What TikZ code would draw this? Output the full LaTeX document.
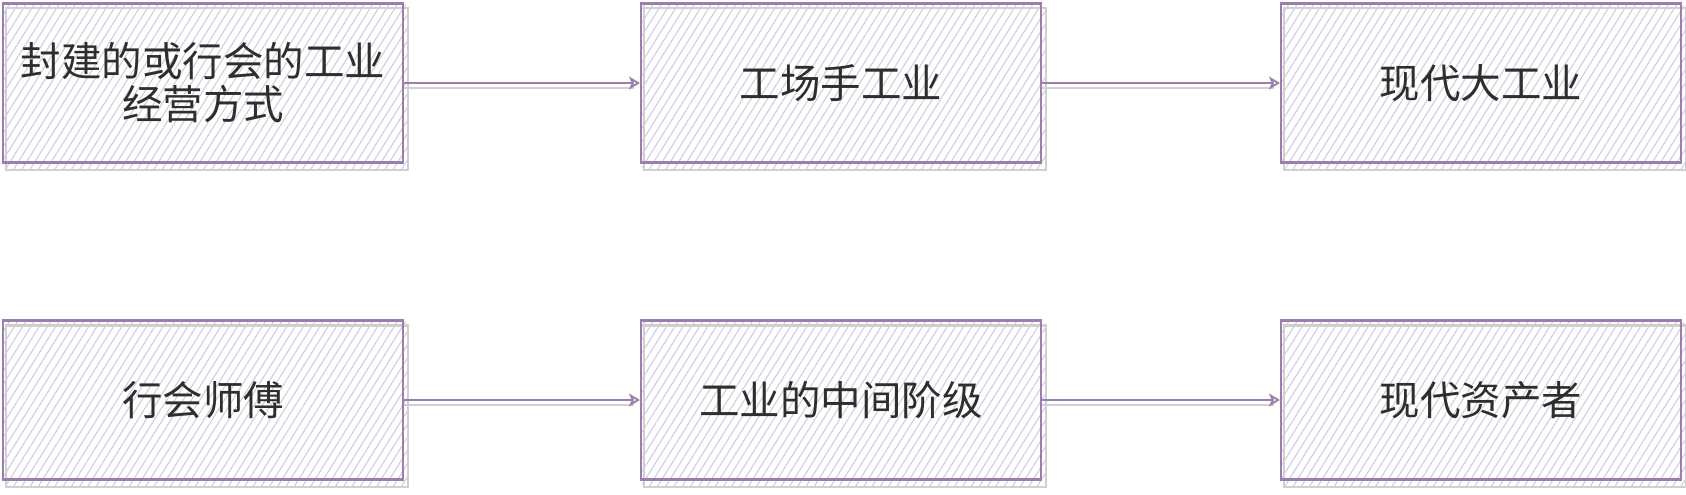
\documentclass[tikz,border=0pt]{standalone}
\usepackage{fontspec}
\newfontfamily\cjk{Noto Sans CJK SC}
\usetikzlibrary{patterns.meta,arrows.meta,backgrounds}
\definecolor{boxpurple}{HTML}{9A7EAE}
\definecolor{hatchc}{HTML}{D4CCDC}
\definecolor{shadowc}{HTML}{D0D0D0}
\definecolor{txt}{HTML}{2E2E2E}
\tikzset{
  stagebox/.style={draw=boxpurple, line width=2.2pt, minimum width=400pt, minimum height=159pt,
    inner sep=2pt, align=center, text=txt, font=\cjk\fontsize{40.5}{43}\selectfont},
  hatchfill/.style={pattern={Lines[angle=58,distance=7pt,line width=1.1pt]}, pattern color=hatchc},
  shadowline/.style={draw=shadowc, line width=2.2pt},
  flow/.style={draw=boxpurple, line width=2.2pt, -{Stealth[open,length=11pt,width=13pt,inset=3pt,line width=1.8pt]}},
  flowshadow/.style={draw=shadowc, line width=2.2pt}
}
\begin{document}
\begin{tikzpicture}[x=1pt,y=-1pt]
\useasboundingbox (0,0) rectangle (1686,495);
\node[stagebox] (a) at (203,83) {封建的或行会的工业\\经营方式};
\node[stagebox] (b) at (841,83) {工场手工业};
\node[stagebox] (c) at (1481,83) {现代大工业};
\node[stagebox] (d) at (203,400) {行会师傅};
\node[stagebox] (e) at (841,400) {工业的中间阶级};
\node[stagebox] (f) at (1481,400) {现代资产者};
\begin{scope}[on background layer]
\foreach \n in {a,b,c,d,e,f}{
  \fill[hatchfill] (\n.north west) -- (\n.north east) -- ([shift={(4pt,-6pt)}]\n.north east)
    -- ([shift={(4pt,-6pt)}]\n.south east) -- ([shift={(4pt,-6pt)}]\n.south west)
    -- (\n.south west) -- cycle;
  \draw[shadowline] ([shift={(4pt,-6pt)}]\n.north west) rectangle ([shift={(4pt,-6pt)}]\n.south east);
}
\draw[flowshadow] ([yshift=-5pt]a.east) -- ([xshift=-6pt,yshift=-5pt]b.west);
\draw[flowshadow] ([yshift=-5pt]b.east) -- ([xshift=-6pt,yshift=-5pt]c.west);
\draw[flowshadow] ([yshift=-5pt]d.east) -- ([xshift=-6pt,yshift=-5pt]e.west);
\draw[flowshadow] ([yshift=-5pt]e.east) -- ([xshift=-6pt,yshift=-5pt]f.west);
\end{scope}
\draw[flow] (a.east) -- (b.west);
\draw[flow] (b.east) -- (c.west);
\draw[flow] (d.east) -- (e.west);
\draw[flow] (e.east) -- (f.west);
\end{tikzpicture}
\end{document}
